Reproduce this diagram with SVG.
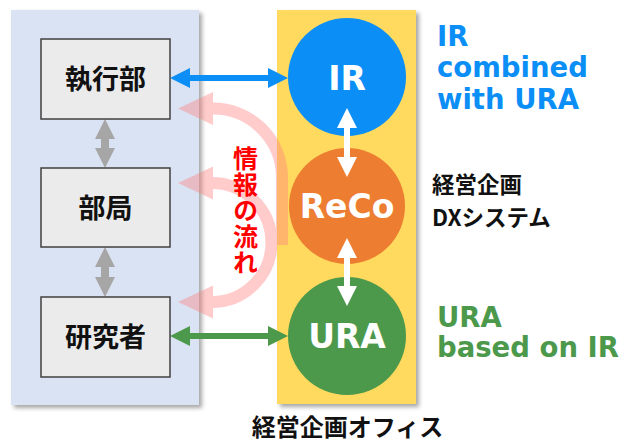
<svg xmlns="http://www.w3.org/2000/svg" width="626" height="443" viewBox="0 0 626 443">
<defs>
<filter id="sh" x="-10%" y="-10%" width="120%" height="120%">
<feDropShadow dx="3" dy="3" stdDeviation="2" flood-color="#000" flood-opacity="0.35"/>
</filter>
</defs>
<style>
.jp{font-family:"Noto Sans CJK JP","Noto Sans CJK SC",sans-serif;font-weight:700}
.lat{font-family:"DejaVu Sans","Noto Sans",sans-serif;font-weight:700}
.box{fill:#ebebeb;stroke:#404040;stroke-width:1.5}
.circ{font-size:33px;fill:#fff;text-anchor:middle}
.boxt{font-size:27px;fill:#111;text-anchor:middle}
.red{font-size:25px;fill:#ff0000;writing-mode:vertical-rl;letter-spacing:1px}
.pink{fill:none;stroke:#ff8080;stroke-width:12}
</style>
<g id="panels">
<rect id="org-panel" x="11" y="10" width="188" height="395" fill="#dae3f3" filter="url(#sh)"/>
<rect id="office-panel" x="277" y="10" width="139" height="394" fill="#ffda5e" filter="url(#sh)"/>
</g>
<g id="flow" opacity="0.4">
<g id="flow-top">
<path class="pink" d="M212 108.5 A69 69 0 0 1 282 177.5 L282 245"/>
<polygon points="178,108.5 213,92 213,125" fill="#ff8080"/>
</g>
<g id="flow-mid-bottom">
<path class="pink" d="M212 183 A59.5 59.5 0 0 1 212 302"/>
<polygon points="178,183 213,166.5 213,199.5" fill="#ff8080"/>
<polygon points="178,302 213,285.5 213,318.5" fill="#ff8080"/>
</g>
</g>
<g id="connectors">
<polygon fill="#a6a6a6" points="105,119 115,139 109,139 109,148 115,148 105,168 95,148 101,148 101,139 95,139"/>
<polygon fill="#a6a6a6" points="105,247 115,267 109,267 109,277 115,277 105,297 95,277 101,277 101,267 95,267"/>
<polygon fill="#0b8ef5" points="170,78 190,68 190,75 268,75 268,68 288,78 268,88 268,81 190,81 190,88"/>
<polygon fill="#4c994c" points="170,336 190,326 190,333 268,333 268,326 288,336 268,346 268,339 190,339 190,346"/>
</g>
<g id="node-exec">
<rect class="box" x="41" y="39" width="129" height="80"/>
<text class="jp boxt" x="105.5" y="89">執行部</text>
</g>
<g id="node-dept">
<rect class="box" x="41" y="168" width="129" height="79"/>
<text class="jp boxt" x="105.5" y="217.5">部局</text>
</g>
<g id="node-researcher">
<rect class="box" x="41" y="297" width="129" height="80"/>
<text class="jp boxt" x="105.5" y="347">研究者</text>
</g>
<g id="node-ir">
<circle cx="347" cy="77" r="59" fill="#0b8ef5"/>
<text class="lat circ" x="347" y="90">IR</text>
</g>
<g id="node-reco">
<circle cx="347" cy="206" r="58" fill="#ed7d31"/>
<text class="lat circ" x="347" y="218">ReCo</text>
</g>
<g id="node-ura">
<circle cx="347" cy="336" r="59" fill="#4c994c"/>
<text class="lat circ" x="347" y="348">URA</text>
</g>
<g id="inner-connectors">
<polygon fill="#fff" points="347,108 357,128 350,128 350,157 357,157 347,177 337,157 344,157 344,128 337,128"/>
<polygon fill="#fff" points="347,238 357,258 350,258 350,286 357,286 347,306 337,286 344,286 344,258 337,258"/>
</g>
<g id="flow-label">
<text class="jp red" x="245.5" y="146">情報の流れ</text>
</g>
<g id="labels">
<text class="lat" font-size="27.5" fill="#0b8ef5"><tspan x="437" y="46">IR</tspan><tspan x="437" y="77">combined</tspan><tspan x="437" y="109">with URA</tspan></text>
<text class="jp" font-size="22.5" fill="#111"><tspan x="432" y="193">経営企画</tspan><tspan x="432" y="226">DXシステム</tspan></text>
<text class="lat" font-size="27.5" fill="#4c994c"><tspan x="437" y="327">URA</tspan><tspan x="437" y="357">based on IR</tspan></text>
<text class="jp" font-size="24" fill="#111" x="347.5" y="436" text-anchor="middle">経営企画オフィス</text>
</g>
</svg>
